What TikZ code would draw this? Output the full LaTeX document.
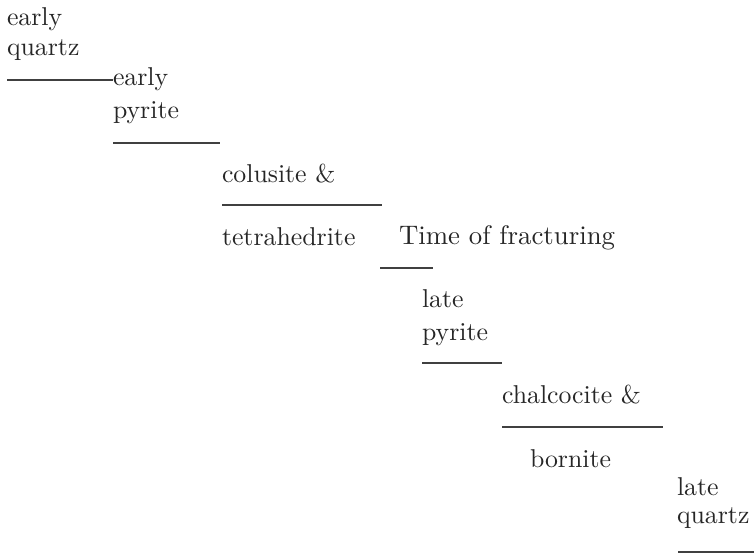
\documentclass[tikz,border=0pt]{standalone}
\usepackage{tikz}
\begin{document}
\begin{tikzpicture}[x=1pt,y=-1pt,
  lbl/.style={anchor=base west,inner sep=0pt,outer sep=0pt,text=black!85,font=\fontsize{10}{12}\selectfont,scale=#1,transform shape},
  lbl/.default=2.58,
  sep/.style={draw=black!75,line width=1.1pt}]
\useasboundingbox (0,0) rectangle (754,554);
% texts
\node[lbl] (eqa) at (7,25) {early};
\node[lbl] (eqb) at (7,55) {quartz};
\node[lbl] (epa) at (113,85) {early};
\node[lbl] (epb) at (113,118) {pyrite};
\node[lbl] (col) at (222,182) {colusite \&};
\node[lbl] (tet) at (222,245) {tetrahedrite};
\node[lbl=2.68] (tof) at (399,244) {Time of fracturing};
\node[lbl] (lpa) at (422,307) {late};
\node[lbl] (lpb) at (422,340) {pyrite};
\node[lbl] (cha) at (502,403) {chalcocite \&};
\node[lbl] (bor) at (530,467) {bornite};
\node[lbl] (lqa) at (677,495) {late};
\node[lbl] (lqb) at (677,523) {quartz};
% line end points
\coordinate (l1a) at (7,80);   \coordinate (l1b) at (113,80);
\coordinate (l2a) at (113,143); \coordinate (l2b) at (220,143);
\coordinate (l3a) at (222,205); \coordinate (l3b) at (382,205);
\coordinate (l4a) at (380,268); \coordinate (l4b) at (433,268);
\coordinate (l5a) at (422,363); \coordinate (l5b) at (502,363);
\coordinate (l6a) at (502,427); \coordinate (l6b) at (663,427);
\coordinate (l7a) at (678,552); \coordinate (l7b) at (754,552);
\draw[sep] (l1a) -- (l1b);
\draw[sep] (l2a) -- (l2b);
\draw[sep] (l3a) -- (l3b);
\draw[sep] (l4a) -- (l4b);
\draw[sep] (l5a) -- (l5b);
\draw[sep] (l6a) -- (l6b);
\draw[sep] (l7a) -- (l7b);
\end{tikzpicture}
\end{document}
